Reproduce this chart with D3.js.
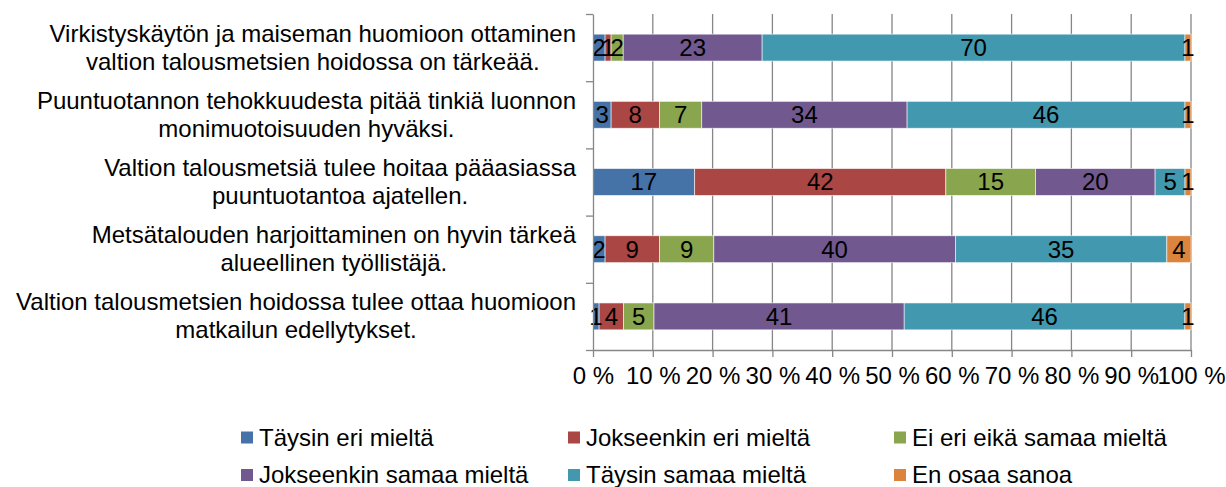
<!DOCTYPE html>
<html>
<head>
<meta charset="utf-8">
<script src="https://cdn.jsdelivr.net/npm/d3@7"></script>
<style>
  html, body { margin: 0; padding: 0; background: #fff; }
  svg { display: block; }
  text { font-family: "Liberation Sans", Arial, sans-serif; fill: #000; }
</style>
</head>
<body>
<svg id="chart" width="1226" height="487"></svg>
<script>
// ---- Data ----
const categories = [
  "Virkistyskäytön ja maiseman huomioon ottaminen|valtion talousmetsien hoidossa on tärkeää.",
  "Puuntuotannon tehokkuudesta pitää tinkiä luonnon|monimuotoisuuden hyväksi.",
  "Valtion talousmetsiä tulee hoitaa pääasiassa|puuntuotantoa ajatellen.",
  "Metsätalouden harjoittaminen on hyvin tärkeä|alueellinen työllistäjä.",
  "Valtion talousmetsien hoidossa tulee ottaa huomioon|matkailun edellytykset."
];
const seriesNames = [
  "Täysin eri mieltä",
  "Jokseenkin eri mieltä",
  "Ei eri eikä samaa mieltä",
  "Jokseenkin samaa mieltä",
  "Täysin samaa mieltä",
  "En osaa sanoa"
];
const taysinEri      = [2, 3, 17, 2, 1];
const jokseenkinEri  = [1, 8, 42, 9, 4];
const eiEriEikaSamaa = [2, 7, 15, 9, 5];
const jokseenkinSama = [23, 34, 20, 40, 41];
const taysinSamaa    = [70, 46, 5, 35, 46];
const enOsaa         = [1, 1, 1, 4, 1];
const seriesValues = [taysinEri, jokseenkinEri, eiEriEikaSamaa, jokseenkinSama, taysinSamaa, enOsaa];
const colors = ["#4572A7", "#AA4643", "#89A54E", "#71588F", "#4198AF", "#DB843D"];
const xTicks = [0, 0.1, 0.2, 0.3, 0.4, 0.5, 0.6, 0.7, 0.8, 0.9, 1.0];
const xTickLabels = ["0 %", "10 %", "20 %", "30 %", "40 %", "50 %", "60 %", "70 %", "80 %", "90 %", "100 %"];

(function () {
// ---- Build table ----
const rows = categories.map((c, i) => {
  const r = { cat: c };
  seriesNames.forEach((s, j) => r[s] = seriesValues[j][i]);
  return r;
});
const stacked = d3.stack().keys(seriesNames).offset(d3.stackOffsetExpand)(rows);

const svg = d3.select("#chart");
const FS = 24;
const pLeft = 593, pRight = 1191, pTop = 14, pBottom = 350;
const axisColor = "#868686";

const x = d3.scaleLinear().domain([0, 1]).range([pLeft, pRight]);
const y = d3.scaleBand().domain(categories).range([pTop, pBottom]).paddingInner(0.6).paddingOuter(0.3);
const yBound = d3.scaleLinear().domain([0, categories.length]).range([pTop, pBottom]);

// gridlines
svg.append("g").selectAll("line")
  .data(xTicks.filter(d => d > 0))
  .join("line")
  .attr("x1", d => x(d)).attr("x2", d => x(d))
  .attr("y1", pTop).attr("y2", pBottom)
  .attr("stroke", axisColor).attr("stroke-width", 1.3);

// bars
const layer = svg.append("g").selectAll("g")
  .data(stacked).join("g")
  .attr("fill", (d, i) => colors[i]);
layer.selectAll("rect")
  .data(d => d.map(p => ({ p, cat: p.data.cat })))
  .join("rect")
  .attr("x", d => x(d.p[0]))
  .attr("width", d => x(d.p[1]) - x(d.p[0]))
  .attr("y", d => y(d.cat))
  .attr("height", y.bandwidth())
  .attr("stroke", "#ffffff").attr("stroke-width", 0.8).attr("stroke-opacity", 0.7);

// data labels
stacked.forEach((s, i) => {
  svg.append("g").selectAll("text")
    .data(s).join("text")
    .attr("x", d => (x(d[0]) + x(d[1])) / 2)
    .attr("y", d => y(d.data.cat) + y.bandwidth() / 2)
    .attr("dy", "0.35em")
    .attr("text-anchor", "middle")
    .style("font-size", FS + "px")
    .text(d => d.data[seriesNames[i]]);
});

// left axis (ticks at category boundaries)
const yAxis = d3.axisLeft(yBound)
  .tickValues(d3.range(0, categories.length + 1))
  .tickFormat("").tickSize(7).tickSizeOuter(0);
const gy = svg.append("g").attr("transform", `translate(${pLeft},0)`).call(yAxis);
gy.selectAll("path, line").attr("stroke", axisColor).attr("stroke-width", 1.3);

// bottom axis
const xAxis = d3.axisBottom(x)
  .tickValues(xTicks)
  .tickFormat((d, i) => xTickLabels[i]).tickSize(7).tickSizeOuter(0).tickPadding(10);
const gx = svg.append("g").attr("transform", `translate(0,${pBottom})`).call(xAxis);
gx.selectAll("path, line").attr("stroke", axisColor).attr("stroke-width", 1.3);
gx.attr("font-family", null).attr("font-size", null);
gx.selectAll("text").style("font-size", FS + "px").attr("fill", "#000");

// category labels (two centred lines, block right aligned)
const labelRight = 576;
categories.forEach(c => {
  const lines = c.split("|");
  const cy = y(c) + y.bandwidth() / 2;
  const g = svg.append("g");
  const ts = lines.map((ln, k) => g.append("text")
    .attr("y", cy + (k === 0 ? -14.5 : 13.5))
    .attr("dy", "0.35em")
    .attr("text-anchor", "middle")
    .style("font-size", FS + "px")
    .text(ln));
  const maxW = d3.max(ts, t => t.node().getComputedTextLength());
  ts.forEach(t => t.attr("x", labelRight - maxW / 2));
});

// legend
const legendCols = [241, 568, 894];
const legendRows = [437.5, 475];
const lg = svg.append("g").selectAll("g")
  .data(seriesNames).join("g")
  .attr("transform", (d, i) => `translate(${legendCols[i % 3]},${legendRows[Math.floor(i / 3)]})`);
lg.append("rect").attr("x", 0).attr("y", -6).attr("width", 12).attr("height", 12)
  .attr("fill", (d, i) => colors[i]);
lg.append("text").attr("x", 18).attr("dy", "0.35em")
  .style("font-size", FS + "px").text(d => d);
})();
</script>
</body>
</html>
